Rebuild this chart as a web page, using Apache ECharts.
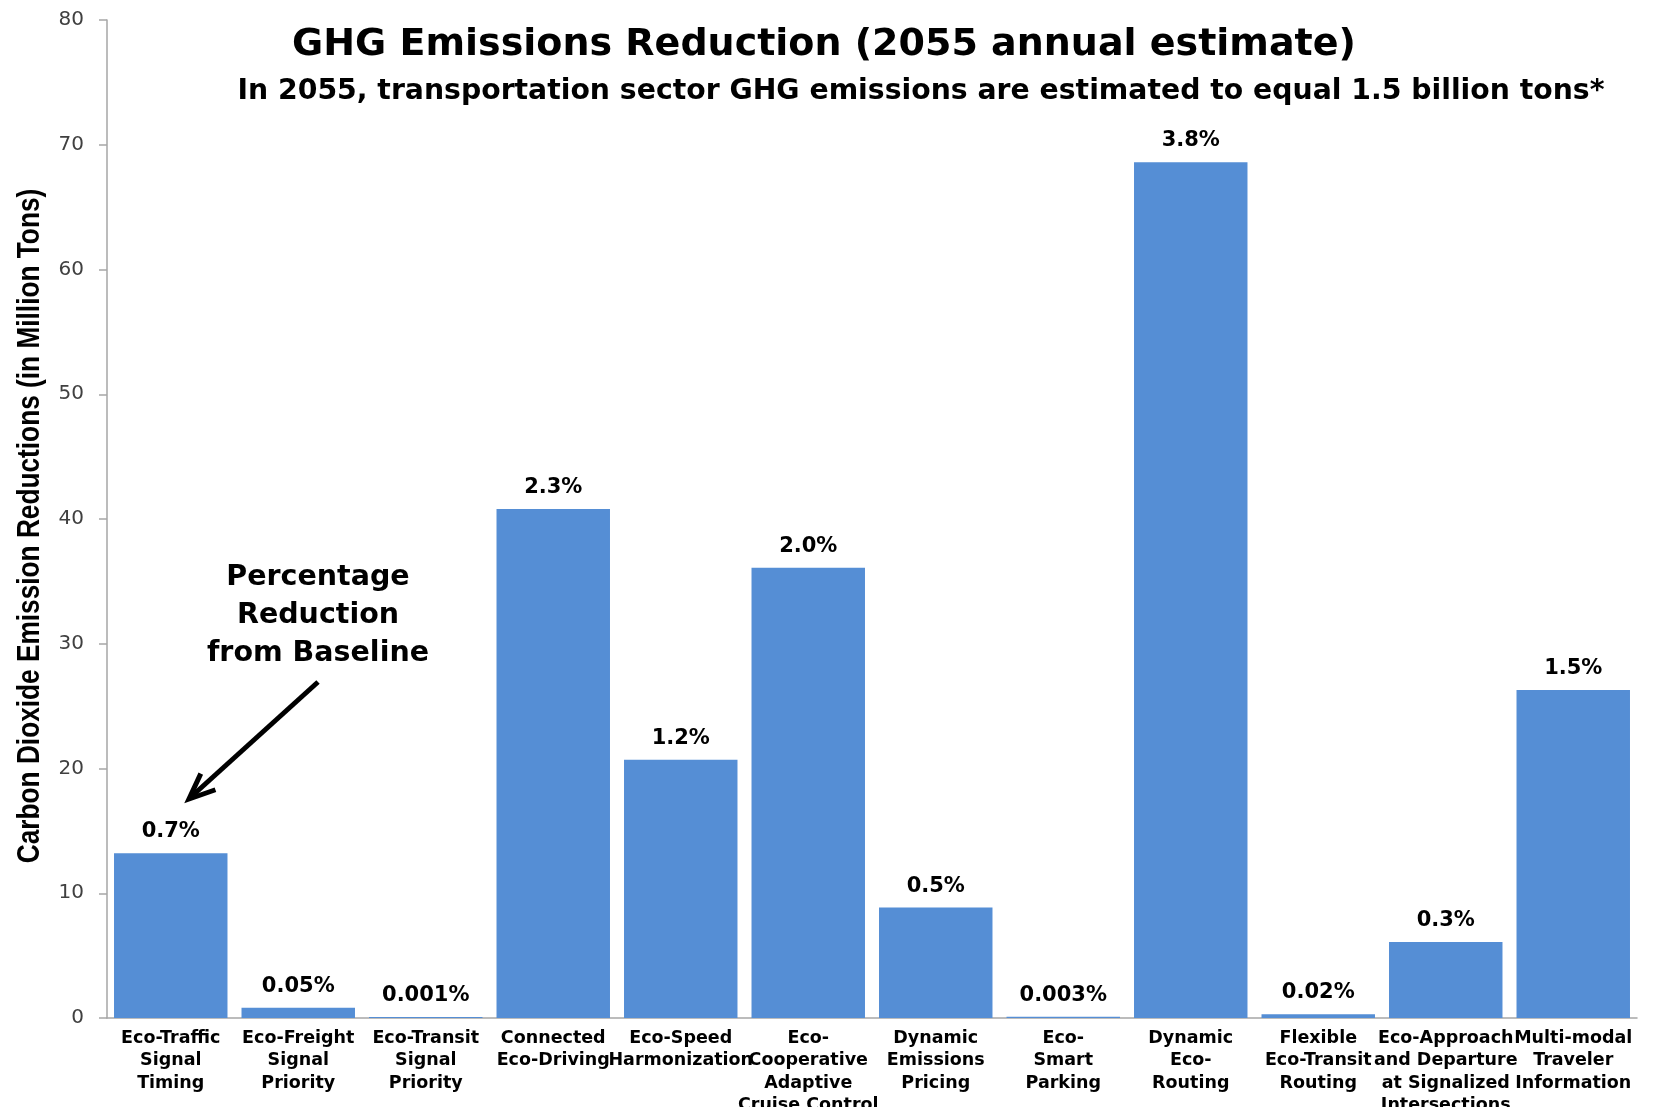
<!DOCTYPE html>
<html>
<head>
<meta charset="utf-8">
<title>GHG Emissions Reduction (2055 annual estimate)</title>
<script src="https://cdn.jsdelivr.net/npm/echarts@6/dist/echarts.min.js"></script>
<style>
  html, body { margin: 0; padding: 0; background: #ffffff; }
  #chart { width: 1663px; height: 1107px; }
</style>
</head>
<body>
<div id="chart"></div>
<script>
// Applications (x axis categories)
const categories = [
  'Eco-Traffic\nSignal\nTiming',
  'Eco-Freight\nSignal\nPriority',
  'Eco-Transit\nSignal\nPriority',
  'Connected\nEco-Driving',
  'Eco-Speed\nHarmonization',
  'Eco-\nCooperative\nAdaptive\nCruise Control',
  'Dynamic\nEmissions\nPricing',
  'Eco-\nSmart\nParking',
  'Dynamic\nEco-\nRouting',
  'Flexible\nEco-Transit\nRouting',
  'Eco-Approach\nand Departure\nat Signalized\nIntersections',
  'Multi-modal\nTraveler\nInformation'
];

// CO2 emission reductions, million tons
const reductions = [13.2, 0.83, 0.08, 40.8, 20.7, 36.1, 8.85, 0.1, 68.6, 0.3, 6.1, 26.3];

// Percentage reduction from the 2055 baseline, shown above each bar
const percentLabels = ['0.7%', '0.05%', '0.001%', '2.3%', '1.2%', '2.0%', '0.5%', '0.003%', '3.8%', '0.02%', '0.3%', '1.5%'];

// Value axis ticks
const yMin = 0;
const yMax = 80;
const yStep = 10;

const chart = echarts.init(document.getElementById('chart'), null, { renderer: 'canvas' });

const BAR_BLUE = '#558ed5';
const AXIS_GREY = '#a6a6a6';
const TEXT_FONT = 'DejaVu Sans, Verdana, sans-serif';

// Annotation arrow pointing at the percentage labels
const arrowStart = [318, 682];
const arrowTip = [189, 799];
function arrowHead(start, tip, len, spread) {
  const ang = Math.atan2(start[1] - tip[1], start[0] - tip[0]);
  return [
    [tip[0] + len * Math.cos(ang - spread), tip[1] + len * Math.sin(ang - spread)],
    tip,
    [tip[0] + len * Math.cos(ang + spread), tip[1] + len * Math.sin(ang + spread)]
  ];
}

const option = {
  backgroundColor: '#ffffff',
  animation: false,
  grid: {
    left: 107, right: 26, top: 20, bottom: 89,
    containLabel: false,
    outerBoundsMode: 'none'
  },
  xAxis: {
    type: 'category',
    data: categories,
    axisLine: { show: true, lineStyle: { color: AXIS_GREY, width: 1.5 } },
    axisTick: { show: false },
    axisLabel: {
      interval: 0,
      margin: 9,
      color: '#000000',
      fontFamily: TEXT_FONT,
      fontWeight: 'bold',
      fontSize: 17.5,
      lineHeight: 22.5,
      align: 'center',
      verticalAlign: 'top',
      hideOverlap: false
    }
  },
  yAxis: {
    type: 'value',
    min: yMin,
    max: yMax,
    interval: yStep,
    splitLine: { show: false },
    axisLine: { show: true, lineStyle: { color: AXIS_GREY, width: 1.5 } },
    axisTick: { show: true, inside: false, length: 8, lineStyle: { color: AXIS_GREY, width: 1.5 } },
    axisLabel: {
      margin: 23,
      color: '#404040',
      fontFamily: TEXT_FONT,
      fontSize: 20
    }
  },
  series: [{
    type: 'bar',
    data: reductions,
    barCategoryGap: '11%',
    itemStyle: { color: BAR_BLUE },
    label: {
      show: true,
      position: 'top',
      distance: 11,
      color: '#000000',
      fontFamily: TEXT_FONT,
      fontWeight: 'bold',
      fontSize: 21,
      formatter: (p) => percentLabels[p.dataIndex]
    }
  }],
  graphic: [
    {
      type: 'text',
      x: 824, y: 45,
      style: {
        text: 'GHG Emissions Reduction (2055 annual estimate)',
        fontFamily: TEXT_FONT, fontWeight: 'bold', fontSize: 38,
        fill: '#000000', align: 'center', verticalAlign: 'middle'
      }
    },
    {
      type: 'text',
      x: 921, y: 92,
      style: {
        text: 'In 2055, transportation sector GHG emissions are estimated to equal 1.5 billion tons*',
        fontFamily: TEXT_FONT, fontWeight: 'bold', fontSize: 28.3,
        fill: '#000000', align: 'center', verticalAlign: 'middle'
      }
    },
    {
      // value axis title, narrow bold sans reading bottom to top
      type: 'text',
      x: 30, y: 526,
      rotation: Math.PI / 2,
      scaleX: 0.82,
      style: {
        text: 'Carbon Dioxide Emission Reductions (in Million Tons)',
        fontFamily: 'Liberation Sans, Arial, sans-serif', fontWeight: 'bold', fontSize: 32,
        fill: '#000000', align: 'center', verticalAlign: 'middle'
      }
    },
    {
      type: 'text',
      x: 318, y: 616,
      style: {
        text: 'Percentage\nReduction\nfrom Baseline',
        fontFamily: TEXT_FONT, fontWeight: 'bold', fontSize: 28.5, lineHeight: 38,
        fill: '#000000', align: 'center', verticalAlign: 'middle'
      }
    },
    {
      type: 'line',
      shape: { x1: arrowStart[0], y1: arrowStart[1], x2: arrowTip[0] + 3, y2: arrowTip[1] - 3 },
      style: { stroke: '#000000', lineWidth: 5 }
    },
    {
      type: 'polyline',
      shape: { points: arrowHead(arrowStart, arrowTip, 28, 0.4) },
      style: { stroke: '#000000', lineWidth: 5, fill: null, lineJoin: 'miter' }
    }
  ]
};

chart.setOption(option);
</script>
</body>
</html>
